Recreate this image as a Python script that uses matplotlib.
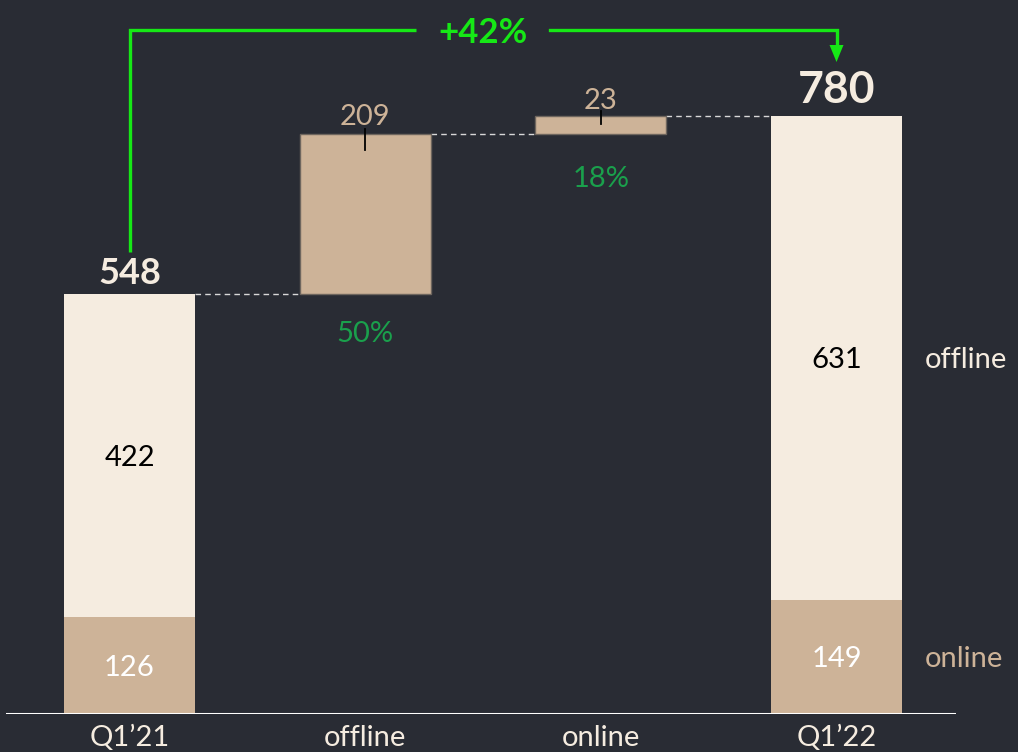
import matplotlib
matplotlib.use("Agg")
import matplotlib.pyplot as plt
from matplotlib.patches import Polygon

# ---- data ----
categories = ["Q1\u201921", "offline", "online", "Q1\u201922"]
start_offline = 422
start_online = 126
end_offline = 631
end_online = 149
delta_offline = 209
delta_online = 23
delta_pct = ["50%", "18%"]
total_growth = "+42%"

start_total = start_offline + start_online
end_total = end_offline + end_online

# ---- style ----
BG = "#292c34"
CREAM = "#f5ece0"
TAN = "#cdb398"
GREEN_TXT = "#1aa04c"
GREEN_ARROW = "#16e816"
FONT = "Lato"

plt.rcParams["font.family"] = [FONT, "DejaVu Sans"]

fig = plt.figure(figsize=(10.18, 7.52), dpi=100, facecolor=BG)
H = 752
W = 1018
ax = fig.add_axes([6 / W, (H - 714) / H, 950 / W, 714 / H])
ax.set_facecolor(BG)

px_per_unit = 420 / 548.0
ax.set_ylim(0, 714 / px_per_unit)
x0 = 129.5
sx = 235.67
ax.set_xlim((6 - x0) / sx, (956 - x0) / sx)
bw = 131 / sx

def px(n):
    return n / px_per_unit

xs = list(range(len(categories)))

# total bars
ax.bar(xs[0], start_online, width=bw, color=TAN, zorder=2)
ax.bar(xs[0], start_offline, bottom=start_online, width=bw, color=CREAM, zorder=2)
ax.bar(xs[3], end_online, width=bw, color=TAN, zorder=2)
ax.bar(xs[3], end_offline, bottom=end_online, width=bw, color=CREAM, zorder=2)

# change bars
b1 = start_total
ax.bar(xs[1], delta_offline, bottom=b1, width=bw, color=TAN, edgecolor="#6e665e", lw=1, zorder=2)
b2 = b1 + delta_offline
ax.bar(xs[2], delta_online, bottom=b2, width=bw, color=TAN, edgecolor="#6e665e", lw=1, zorder=2)
b3 = b2 + delta_online

# connectors
dash = dict(color="#d8d8d8", lw=1, ls=(0, (4, 3)), zorder=1)
ax.plot([xs[0] + bw / 2, xs[1] - bw / 2], [b1, b1], **dash)
ax.plot([xs[1] + bw / 2, xs[2] - bw / 2], [b2, b2], **dash)
ax.plot([xs[2] + bw / 2, xs[3] - bw / 2], [b3, b3], **dash)

# black tick marks
ax.plot([xs[1], xs[1]], [b2 + px(5), b2 - px(16)], color="black", lw=1.3, zorder=3)
ax.plot([xs[2], xs[2]], [b3 + px(5), b3 - px(8)], color="black", lw=1.3, zorder=3)

# baseline
ax.axhline(0, color="white", lw=2.2, zorder=4)

# value labels
fs = 21
va = "center_baseline"
ax.text(xs[0], start_online + start_offline / 2, str(start_offline), ha="center", va=va, fontsize=fs, color="black", zorder=5)
ax.text(xs[0], start_online / 2, str(start_online), ha="center", va=va, fontsize=fs, color="white", zorder=5)
ax.text(xs[3], end_online + end_offline / 2, str(end_offline), ha="center", va=va, fontsize=fs, color="black", zorder=5)
ax.text(xs[3], end_online / 2, str(end_online), ha="center", va=va, fontsize=fs, color="white", zorder=5)

ax.text(xs[0], start_total + px(24), str(start_total), ha="center", va=va, fontsize=26, fontweight="bold", color=CREAM, zorder=5)
ax.text(xs[3], end_total + px(30), str(end_total), ha="center", va=va, fontsize=32, fontweight="bold", color=CREAM, zorder=5)

ax.text(xs[1], b2 + px(19), str(delta_offline), ha="center", va=va, fontsize=fs, color=TAN, zorder=5)
ax.text(xs[2], b3 + px(18), str(delta_online), ha="center", va=va, fontsize=fs, color=TAN, zorder=5)
ax.text(xs[1], b1 - px(37), delta_pct[0], ha="center", va=va, fontsize=fs, color=GREEN_TXT, zorder=5)
ax.text(xs[2], b2 - px(43), delta_pct[1], ha="center", va=va, fontsize=fs, color=GREEN_TXT, zorder=5)

# right side legend labels
xr = (925 - x0) / sx
ax.text(xr, end_online + end_offline / 2, "offline", ha="left", va=va, fontsize=fs, color=CREAM, clip_on=False)
ax.text(xr, end_online / 2, "online", ha="left", va=va, fontsize=fs, color=TAN, clip_on=False)

# growth bracket
ytop = px(714 - 30)
yl = px(714 - 252)
gap_l = (416 - x0) / sx
gap_r = (550 - x0) / sx
ax.plot([xs[0], xs[0], gap_l], [yl, ytop, ytop], color=GREEN_ARROW, lw=2.4, solid_capstyle="butt", solid_joinstyle="miter", zorder=5)
ax.plot([gap_r, xs[3], xs[3]], [ytop, ytop, px(714 - 46)], color=GREEN_ARROW, lw=2.4, solid_joinstyle="miter", zorder=5)
hw = 7 / sx
tri = Polygon([(xs[3] - hw, px(714 - 45)), (xs[3] + hw, px(714 - 45)), (xs[3], px(714 - 62))],
              closed=True, color=GREEN_ARROW, lw=0, zorder=5)
ax.add_patch(tri)
ax.text((gap_l + gap_r) / 2, ytop, total_growth, ha="center", va=va, fontsize=25, fontweight="bold", color=GREEN_ARROW, zorder=5)

# x tick labels
ax.set_xticks(xs)
ax.set_xticklabels(categories, fontsize=fs, color=CREAM)
ax.tick_params(axis="x", length=0, pad=8)
ax.set_yticks([])
for s in ax.spines.values():
    s.set_visible(False)

fig.savefig("out.png", dpi=100, facecolor=BG)
